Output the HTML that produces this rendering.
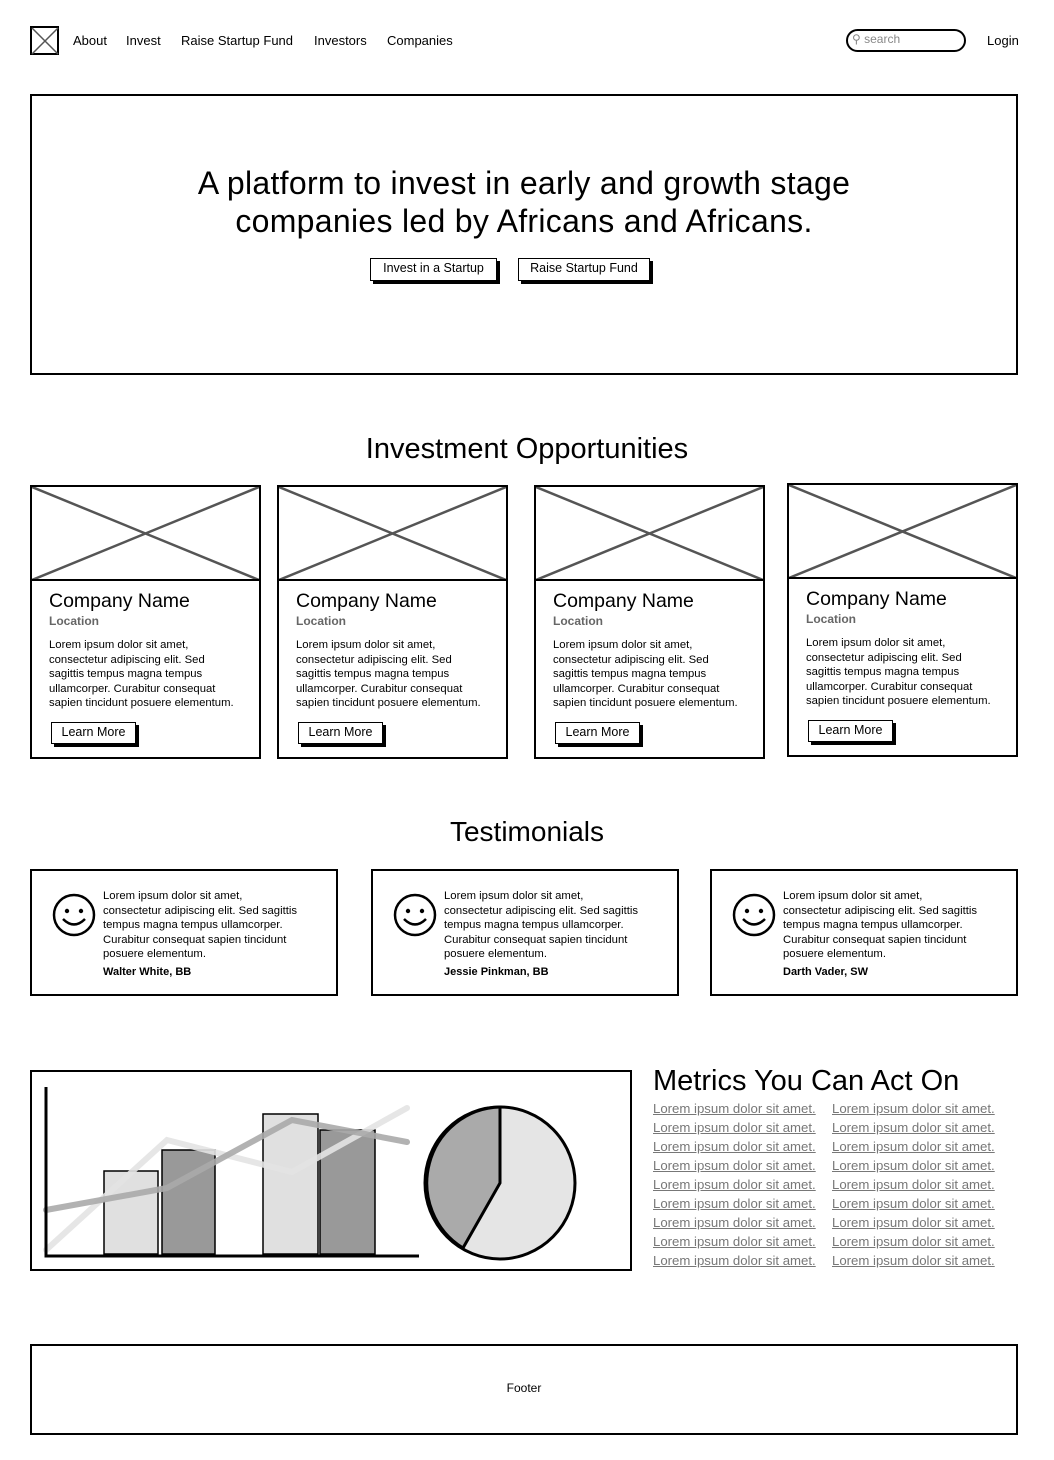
<!DOCTYPE html>
<html><head><style>
*{margin:0;padding:0;box-sizing:border-box}
body{width:1054px;height:1460px;background:#fff;position:relative;font-family:"Liberation Sans",sans-serif;color:#000;overflow:hidden}
.a{position:absolute}
.box{position:absolute;border:2px solid #000;background:#fff}
.nav{font-size:13px;top:33px}
.btn{position:absolute;border:1.5px solid #000;box-shadow:3px 3px 0 #000;background:#fff;font-size:12.5px;text-align:center;line-height:19px}
.cn{font-size:19.5px;position:absolute;left:17px;top:103px}
.loc{font-size:12px;font-weight:bold;color:#666;position:absolute;left:17px;top:127px}
.lor{font-size:11.3px;line-height:14.5px;position:absolute;left:17px;top:151px;width:225px;white-space:nowrap}
.t{font-size:11.3px;line-height:14.5px;position:absolute;left:71px;top:18px;width:235px;white-space:nowrap}
.nm{font-weight:bold;font-size:11px;position:absolute;left:71px;top:95px}
.lk{font-size:13.2px;color:#777;text-decoration:underline;position:absolute;line-height:19px}
</style></head><body>
<svg class="a" style="left:30px;top:26px" width="30" height="30"><rect x="1" y="1" width="27" height="27" fill="#fff" stroke="#000" stroke-width="2"/><path d="M2 2L28 28M28 2L2 28" stroke="#555" stroke-width="1.5"/></svg>
<div class="a nav" style="left:73px">About</div>
<div class="a nav" style="left:126px">Invest</div>
<div class="a nav" style="left:181px">Raise Startup Fund</div>
<div class="a nav" style="left:314px">Investors</div>
<div class="a nav" style="left:387px">Companies</div>
<div class="a" style="left:846px;top:29px;width:120px;height:23px;border:2px solid #000;border-radius:12px"></div>
<div class="a" style="left:852px;top:32px;font-size:12px;color:#888">&#9906; search</div>
<div class="a nav" style="left:987px;top:33px">Login</div>

<div class="box" style="left:30px;top:94px;width:988px;height:281px"></div>
<div class="a" style="left:30px;top:164px;width:988px;text-align:center;font-size:32px;line-height:38px;letter-spacing:0.3px">A platform to invest in early and growth stage<br>companies led by Africans and Africans.</div>
<div class="btn" style="left:370px;top:258px;width:127px;height:23px">Invest in a Startup</div>
<div class="btn" style="left:518px;top:258px;width:132px;height:23px">Raise Startup Fund</div>

<div class="a" style="left:0;top:433px;width:1054px;text-align:center;font-size:29px">Investment Opportunities</div>

<div class="box" style="left:30px;top:485px;width:231px;height:274px">
<svg class="a" style="left:0;top:0" width="227" height="94"><path d="M0 0L227 93M227 0L0 93" stroke="#555" stroke-width="2.5"/><path d="M0 93H227" stroke="#000" stroke-width="2"/></svg>
<div class="cn">Company Name</div><div class="loc">Location</div>
<div class="lor">Lorem ipsum dolor sit amet,<br>consectetur adipiscing elit. Sed<br>sagittis tempus magna tempus<br>ullamcorper. Curabitur consequat<br>sapien tincidunt posuere elementum.</div>
<div class="btn" style="left:19px;top:235px;width:85px;height:22px">Learn More</div></div>
<div class="box" style="left:277px;top:485px;width:231px;height:274px">
<svg class="a" style="left:0;top:0" width="227" height="94"><path d="M0 0L227 93M227 0L0 93" stroke="#555" stroke-width="2.5"/><path d="M0 93H227" stroke="#000" stroke-width="2"/></svg>
<div class="cn">Company Name</div><div class="loc">Location</div>
<div class="lor">Lorem ipsum dolor sit amet,<br>consectetur adipiscing elit. Sed<br>sagittis tempus magna tempus<br>ullamcorper. Curabitur consequat<br>sapien tincidunt posuere elementum.</div>
<div class="btn" style="left:19px;top:235px;width:85px;height:22px">Learn More</div></div>
<div class="box" style="left:534px;top:485px;width:231px;height:274px">
<svg class="a" style="left:0;top:0" width="227" height="94"><path d="M0 0L227 93M227 0L0 93" stroke="#555" stroke-width="2.5"/><path d="M0 93H227" stroke="#000" stroke-width="2"/></svg>
<div class="cn">Company Name</div><div class="loc">Location</div>
<div class="lor">Lorem ipsum dolor sit amet,<br>consectetur adipiscing elit. Sed<br>sagittis tempus magna tempus<br>ullamcorper. Curabitur consequat<br>sapien tincidunt posuere elementum.</div>
<div class="btn" style="left:19px;top:235px;width:85px;height:22px">Learn More</div></div>
<div class="box" style="left:787px;top:483px;width:231px;height:274px">
<svg class="a" style="left:0;top:0" width="227" height="94"><path d="M0 0L227 93M227 0L0 93" stroke="#555" stroke-width="2.5"/><path d="M0 93H227" stroke="#000" stroke-width="2"/></svg>
<div class="cn">Company Name</div><div class="loc">Location</div>
<div class="lor">Lorem ipsum dolor sit amet,<br>consectetur adipiscing elit. Sed<br>sagittis tempus magna tempus<br>ullamcorper. Curabitur consequat<br>sapien tincidunt posuere elementum.</div>
<div class="btn" style="left:19px;top:235px;width:85px;height:22px">Learn More</div></div>

<div class="a" style="left:0;top:816px;width:1054px;text-align:center;font-size:28px">Testimonials</div>

<div class="box" style="left:30px;top:869px;width:308px;height:127px">
<svg class="a" style="left:19px;top:21px" width="46" height="46"><circle cx="23" cy="23" r="20" fill="none" stroke="#000" stroke-width="2.5"/><circle cx="16" cy="19" r="2.2"/><circle cx="30" cy="19" r="2.2"/><path d="M12 27Q23 38 34 27" fill="none" stroke="#000" stroke-width="2.5"/></svg>
<div class="t">Lorem ipsum dolor sit amet,<br>consectetur adipiscing elit. Sed sagittis<br>tempus magna tempus ullamcorper.<br>Curabitur consequat sapien tincidunt<br>posuere elementum.</div><div class="nm">Walter White, BB</div></div>
<div class="box" style="left:371px;top:869px;width:308px;height:127px">
<svg class="a" style="left:19px;top:21px" width="46" height="46"><circle cx="23" cy="23" r="20" fill="none" stroke="#000" stroke-width="2.5"/><circle cx="16" cy="19" r="2.2"/><circle cx="30" cy="19" r="2.2"/><path d="M12 27Q23 38 34 27" fill="none" stroke="#000" stroke-width="2.5"/></svg>
<div class="t">Lorem ipsum dolor sit amet,<br>consectetur adipiscing elit. Sed sagittis<br>tempus magna tempus ullamcorper.<br>Curabitur consequat sapien tincidunt<br>posuere elementum.</div><div class="nm">Jessie Pinkman, BB</div></div>
<div class="box" style="left:710px;top:869px;width:308px;height:127px">
<svg class="a" style="left:19px;top:21px" width="46" height="46"><circle cx="23" cy="23" r="20" fill="none" stroke="#000" stroke-width="2.5"/><circle cx="16" cy="19" r="2.2"/><circle cx="30" cy="19" r="2.2"/><path d="M12 27Q23 38 34 27" fill="none" stroke="#000" stroke-width="2.5"/></svg>
<div class="t">Lorem ipsum dolor sit amet,<br>consectetur adipiscing elit. Sed sagittis<br>tempus magna tempus ullamcorper.<br>Curabitur consequat sapien tincidunt<br>posuere elementum.</div><div class="nm">Darth Vader, SW</div></div>

<svg class="a" style="left:0;top:0" width="1054" height="1460">
<rect x="31" y="1071" width="600" height="199" fill="#fff" stroke="#000" stroke-width="2"/>
<rect x="104" y="1171" width="54" height="83" fill="#e0e0e0" stroke="#000" stroke-width="1.5"/>
<rect x="162" y="1150" width="53" height="104" fill="#999" stroke="#000" stroke-width="1.5"/>
<rect x="263" y="1114" width="55" height="140" fill="#e0e0e0" stroke="#000" stroke-width="1.5"/>
<rect x="320" y="1130" width="55" height="124" fill="#999" stroke="#000" stroke-width="1.5"/>
<polyline points="46,1250 167,1140 292,1172 407,1108" fill="none" stroke="#e3e3e3" stroke-width="6" stroke-linecap="round" opacity="0.9"/>
<polyline points="46,1210 167,1188 292,1120 407,1142" fill="none" stroke="#aaa" stroke-width="6" stroke-linecap="round" opacity="0.9"/>
<path d="M46 1087V1256H419" fill="none" stroke="#000" stroke-width="3"/>
<ellipse cx="500" cy="1183" rx="75" ry="76" fill="#e5e5e5" stroke="#000" stroke-width="3"/>
<path d="M500 1107V1183L463 1248A75 76 0 0 1 500 1107Z" fill="#aaa" stroke="#000" stroke-width="3"/>
</svg>
<div class="a" style="left:653px;top:1065px;font-size:29px">Metrics You Can Act On</div>
<div class="lk" style="left:653px;top:1099px">Lorem ipsum dolor sit amet.<br>Lorem ipsum dolor sit amet.<br>Lorem ipsum dolor sit amet.<br>Lorem ipsum dolor sit amet.<br>Lorem ipsum dolor sit amet.<br>Lorem ipsum dolor sit amet.<br>Lorem ipsum dolor sit amet.<br>Lorem ipsum dolor sit amet.<br>Lorem ipsum dolor sit amet.</div>
<div class="lk" style="left:832px;top:1099px">Lorem ipsum dolor sit amet.<br>Lorem ipsum dolor sit amet.<br>Lorem ipsum dolor sit amet.<br>Lorem ipsum dolor sit amet.<br>Lorem ipsum dolor sit amet.<br>Lorem ipsum dolor sit amet.<br>Lorem ipsum dolor sit amet.<br>Lorem ipsum dolor sit amet.<br>Lorem ipsum dolor sit amet.</div>

<div class="box" style="left:30px;top:1344px;width:988px;height:91px"></div>
<div class="a" style="left:30px;top:1381px;width:988px;text-align:center;font-size:12px">Footer</div>
</body></html>
